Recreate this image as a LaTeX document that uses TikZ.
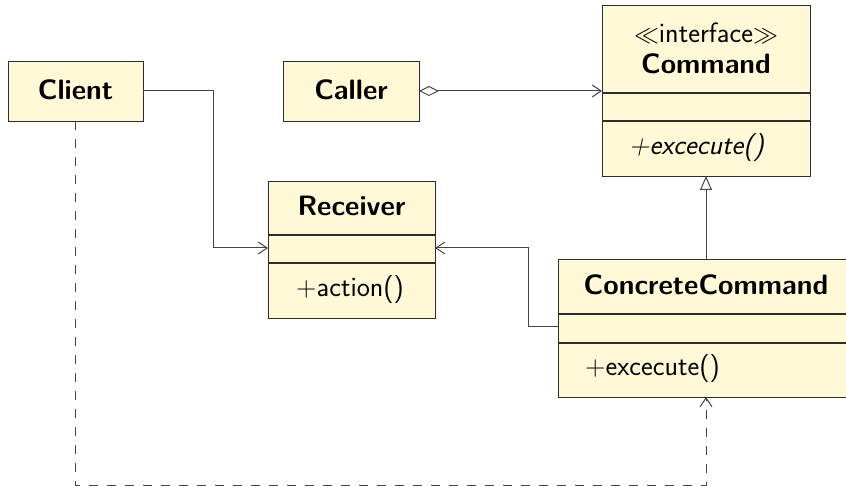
\documentclass[tikz,border=0pt]{standalone}
\usetikzlibrary{arrows.meta}
\renewcommand{\familydefault}{\sfdefault}
\definecolor{boxfill}{RGB}{255,249,215}
\definecolor{boxline}{RGB}{45,45,45}
\definecolor{conn}{RGB}{68,68,68}
\definecolor{lightdash}{RGB}{200,200,200}
\tikzset{
  cls/.style={draw=boxline, fill=boxfill, line width=1.1pt, anchor=north west, inner sep=0pt},
  divline/.style={draw=boxline, line width=1.1pt},
  nametxt/.style={font=\fontsize{28}{32}\selectfont\bfseries, inner sep=0pt},
  txt/.style={font=\fontsize{28}{32}\selectfont, inner sep=0pt},
  methtxt/.style={font=\fontsize{28}{32}\selectfont, inner sep=0pt, anchor=west},
  conline/.style={draw=conn, line width=1pt},
  opentip/.style={-{Straight Barb[length=9pt,width=12pt]}},
  dashline/.style={dash pattern=on 9pt off 9pt},
}
\begin{document}
\begin{tikzpicture}[x=1pt,y=-1pt]
\useasboundingbox (0,0) rectangle (846,486);
% Client
\node[cls, minimum width=135pt, minimum height=60pt] (client) at (8,61) {};
\node[nametxt] (clientname) at (75.5,90) {Client};
% Caller
\node[cls, minimum width=136pt, minimum height=60pt] (caller) at (283,61) {};
\node[nametxt] (callername) at (351,90) {Caller};
% Command
\node[cls, minimum width=208pt, minimum height=171pt] (cmd) at (602,5) {};
\node[txt] (cmdster) at (706,33) {$\ll$interface$\gg$};
\node[nametxt] (cmdname) at (706,64) {Command};
\draw[divline] (602,93) coordinate (cmdd1a) -- (810,93) coordinate (cmdd1b);
\draw[divline] (602,121) coordinate (cmdd2a) -- (810,121) coordinate (cmdd2b);
\node[methtxt, font=\fontsize{28}{32}\selectfont\itshape] (cmdmeth) at (629,148) {+excecute()};
% Receiver
\node[cls, minimum width=167pt, minimum height=137pt] (recv) at (268,181) {};
\node[nametxt] (recvname) at (351.5,206) {Receiver};
\draw[divline] (268,235) coordinate (rd1a) -- (435,235) coordinate (rd1b);
\draw[divline] (268,263) coordinate (rd2a) -- (435,263) coordinate (rd2b);
\node[methtxt] (recvmeth) at (296,290) {+action()};
% ConcreteCommand
\node[cls, minimum width=290pt, minimum height=138pt] (cc) at (558,259) {};
\node[nametxt] (ccname) at (706,285) {ConcreteCommand};
\draw[divline] (558,314) coordinate (cd1a) -- (848,314) coordinate (cd1b);
\draw[divline] (558,343) coordinate (cd2a) -- (848,343) coordinate (cd2b);
\node[methtxt] (ccmeth) at (585,369) {+excecute()};
% helper coordinates
\coordinate (recvL) at (268,248);
\coordinate (recvR) at (435,248);
\coordinate (ccL) at (558,327);
\coordinate (ccT) at (706,259);
\coordinate (ccB) at (706,397);
\coordinate (cmdB) at (706,176);
\coordinate (cmdL) at (602,91);
\coordinate (callerR) at (419,91);
\coordinate (clientR) at (143,91);
\coordinate (clientB) at (75.5,121);
\coordinate (dashBL) at (75.5,485.5);
% Connectors
\draw[conline, opentip] (clientR) -| (213,248) -- (recvL);
\draw[conline, {Diamond[open,length=20pt,width=10pt]}-{Straight Barb[length=9pt,width=12pt]}] (callerR) -- (cmdL);
\draw[conline, -{Triangle[open,length=14pt,width=12pt]}] (ccT) -- (cmdB);
\draw[conline, opentip] (ccL) -| (528,248) -- (recvR);
\draw[conline, dashline, opentip] (clientB) -- (dashBL) -| (ccB);
\end{tikzpicture}
\end{document}
